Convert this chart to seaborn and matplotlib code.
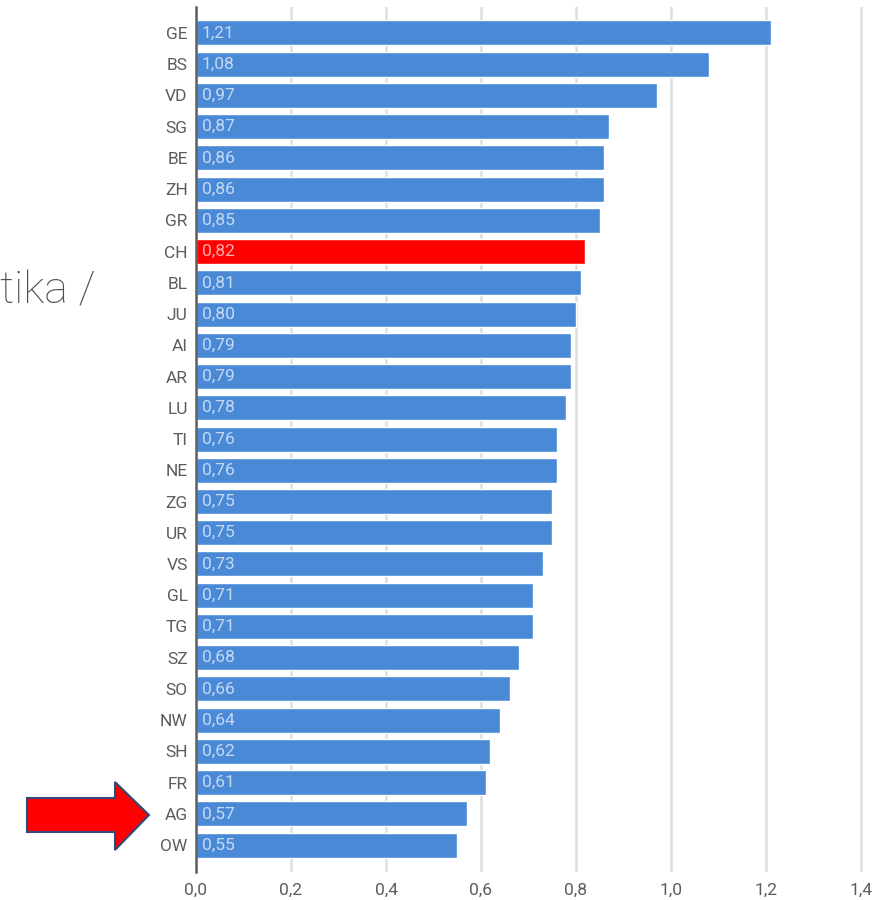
import matplotlib
matplotlib.use("Agg")
import matplotlib.pyplot as plt
import seaborn as sns
import pandas as pd
from matplotlib.patches import Polygon

cantons = ["GE", "BS", "VD", "SG", "BE", "ZH", "GR", "CH", "BL", "JU", "AI", "AR", "LU", "TI",
           "NE", "ZG", "UR", "VS", "GL", "TG", "SZ", "SO", "NW", "SH", "FR", "AG", "OW"]
values = [1.21, 1.08, 0.97, 0.87, 0.86, 0.86, 0.85, 0.82, 0.81, 0.80, 0.79, 0.79, 0.78, 0.76,
          0.76, 0.75, 0.75, 0.73, 0.71, 0.71, 0.68, 0.66, 0.64, 0.62, 0.61, 0.57, 0.55]
highlight = "CH"
xticks = [0.0, 0.2, 0.4, 0.6, 0.8, 1.0, 1.2, 1.4]

sns.set_style("white")
plt.rcParams["font.family"] = ["Roboto", "DejaVu Sans"]

df = pd.DataFrame({"canton": cantons, "value": values})
df["group"] = ["hi" if c == highlight else "lo" for c in cantons]

fig = plt.figure(figsize=(8.79, 9), dpi=100)
ax = fig.add_axes([196 / 879, 1 - 872 / 900, 674.5 / 879, 865 / 900])

sns.barplot(data=df, y="canton", x="value", hue="group", order=cantons,
            palette={"hi": "#ff0000", "lo": "#4a89d6"}, dodge=False, width=0.8,
            legend=False, ax=ax, orient="h", saturation=1)

ax.set_xlim(0, 1.42)
ax.set_ylim(26.86, -0.83)
ax.set_xticks(xticks)
ax.set_xticklabels([f"{t:.1f}".replace(".", ",") for t in xticks])
ax.set_xlabel("")
ax.set_ylabel("")
ax.grid(axis="x", color="#dedede", linewidth=1.8)
ax.set_axisbelow(True)
for s in ["top", "right", "bottom"]:
    ax.spines[s].set_visible(False)
ax.spines["left"].set_color("#5f5f5f")
ax.spines["left"].set_linewidth(1.8)
ax.tick_params(axis="both", length=0, labelsize=12.5, labelcolor="#5c5c5c")
ax.tick_params(axis="y", pad=6)
ax.tick_params(axis="x", pad=8)

for i, v in enumerate(values):
    ax.text(0.012, i, f"{v:.2f}".replace(".", ","), va="center", ha="left",
            color="white", alpha=0.68, fontsize=12.5)

# partial slide text
fig.text(0.0, 1 - 303 / 900, "tika /", fontsize=32, color="#4b5058",
         family=["Roboto", "DejaVu Sans"], fontweight="light", va="baseline", ha="left")

# red arrow
pts = [(27, 798), (115, 798), (115, 782), (149, 815), (115, 850), (115, 832), (27, 832)]
arrow = Polygon([(x / 879, 1 - y / 900) for x, y in pts], closed=True,
                facecolor="#ff0000", edgecolor="#2f4a7a", linewidth=1.5,
                transform=fig.transFigure)
fig.patches.append(arrow)

fig.savefig("out.png", dpi=100)
